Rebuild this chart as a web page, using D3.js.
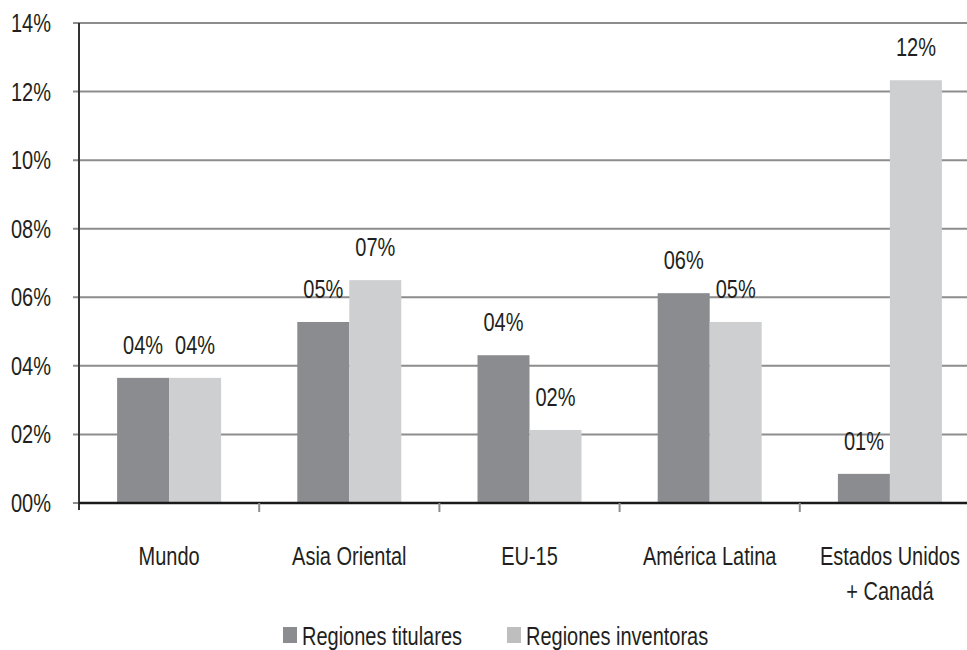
<!DOCTYPE html>
<html>
<head>
<meta charset="utf-8">
<script src="https://cdn.jsdelivr.net/npm/d3@7"></script>
<style>
  body { margin: 0; background: #fff; }
  text { font-family: "Liberation Sans", Arial, sans-serif; fill: #231f20; font-size: 25px; }
</style>
</head>
<body>
<div id="chart"></div>
<script>
var categories = ["Mundo", "Asia Oriental", "EU-15", "América Latina", "Estados Unidos|+ Canadá"];
var series = ["Regiones titulares", "Regiones inventoras"];
var titulares = [3.65, 5.28, 4.31, 6.12, 0.85];
var inventoras = [3.65, 6.5, 2.13, 5.28, 12.33];
var yTicks = [0, 2, 4, 6, 8, 10, 12, 14];
var colors = ["#8b8c90", "#cecfd1"];

var svgWidth = 967;
var svgHeight = 650;
var margin = {top: 23, left: 79};
var plotWidth = 901;
var plotHeight = 480;
var squeeze = 0.8; // condensed look

var svg = d3.select("#chart").append("svg")
  .attr("width", svgWidth)
  .attr("height", svgHeight);

var g = svg.append("g")
  .attr("transform", `translate(${margin.left}, ${margin.top})`);

var x0 = d3.scaleBand().domain(categories).range([0, plotWidth]);
var x1 = d3.scaleBand().domain(series).range([0, 104]);
var y = d3.scaleLinear().domain([0, 14]).range([plotHeight, 0]);

var fmt = v => d3.format("02d")(Math.round(v)) + "%";
var at = (px, py) => `translate(${px}, ${py}) scale(${squeeze}, 1)`;

// gridlines
g.append("g").selectAll("line")
  .data(yTicks)
  .enter().append("line")
  .attr("x1", -6)
  .attr("x2", plotWidth)
  .attr("y1", d => y(d))
  .attr("y2", d => y(d))
  .attr("stroke", "#8d8d8d")
  .attr("stroke-width", 2);

// y labels
g.append("g").selectAll("text")
  .data(yTicks)
  .enter().append("text")
  .attr("transform", d => at(-28, y(d) + 9))
  .attr("text-anchor", "end")
  .text(d => d3.format("02d")(d) + "%");

// bars
var data = categories.map((c, i) => ({cat: c, vals: [titulares[i], inventoras[i]]}));

var groups = g.append("g").selectAll("g")
  .data(data)
  .enter().append("g")
  .attr("transform", d => `translate(${x0(d.cat) + x0.bandwidth() / 2 - 52}, 0)`);

groups.selectAll("rect")
  .data(d => d.vals.map((v, j) => ({s: series[j], v: v, j: j})))
  .enter().append("rect")
  .attr("x", d => x1(d.s))
  .attr("width", x1.bandwidth())
  .attr("y", d => y(d.v))
  .attr("height", d => plotHeight - y(d.v))
  .attr("fill", d => colors[d.j]);

groups.selectAll("text")
  .data(d => d.vals.map((v, j) => ({s: series[j], v: v, j: j})))
  .enter().append("text")
  .attr("transform", d => at(x1(d.s) + x1.bandwidth() / 2, y(d.v) - 24))
  .attr("text-anchor", "middle")
  .text(d => fmt(d.v));

// axes lines
g.append("line")
  .attr("x1", 0).attr("x2", 0)
  .attr("y1", 0).attr("y2", plotHeight + 7)
  .attr("stroke", "#333")
  .attr("stroke-width", 2);

g.append("line")
  .attr("x1", 0).attr("x2", plotWidth)
  .attr("y1", plotHeight).attr("y2", plotHeight)
  .attr("stroke", "#1a1a1a")
  .attr("stroke-width", 2.5);

// category ticks
g.append("g").selectAll("line")
  .data(categories.slice(1))
  .enter().append("line")
  .attr("x1", d => x0(d)).attr("x2", d => x0(d))
  .attr("y1", plotHeight).attr("y2", plotHeight + 9)
  .attr("stroke", "#8d8d8d")
  .attr("stroke-width", 2);

// category labels
g.append("g").selectAll("text")
  .data(categories.flatMap(c => c.split("|").map((t, i) => ({c: c, t: t, i: i}))))
  .enter().append("text")
  .attr("transform", d => at(x0(d.c) + x0.bandwidth() / 2, plotHeight + 62 + d.i * 35))
  .attr("text-anchor", "middle")
  .text(d => d.t);

// legend
var legendX = [283, 507];
var legend = svg.append("g").selectAll("g")
  .data(series)
  .enter().append("g")
  .attr("transform", (d, i) => `translate(${legendX[i]}, 627)`);

legend.append("rect")
  .attr("width", 14)
  .attr("height", 16)
  .attr("fill", (d, i) => i === 0 ? colors[0] : "#bebebe");

legend.append("text")
  .attr("transform", at(19, 18))
  .text(d => d);
</script>
</body>
</html>
